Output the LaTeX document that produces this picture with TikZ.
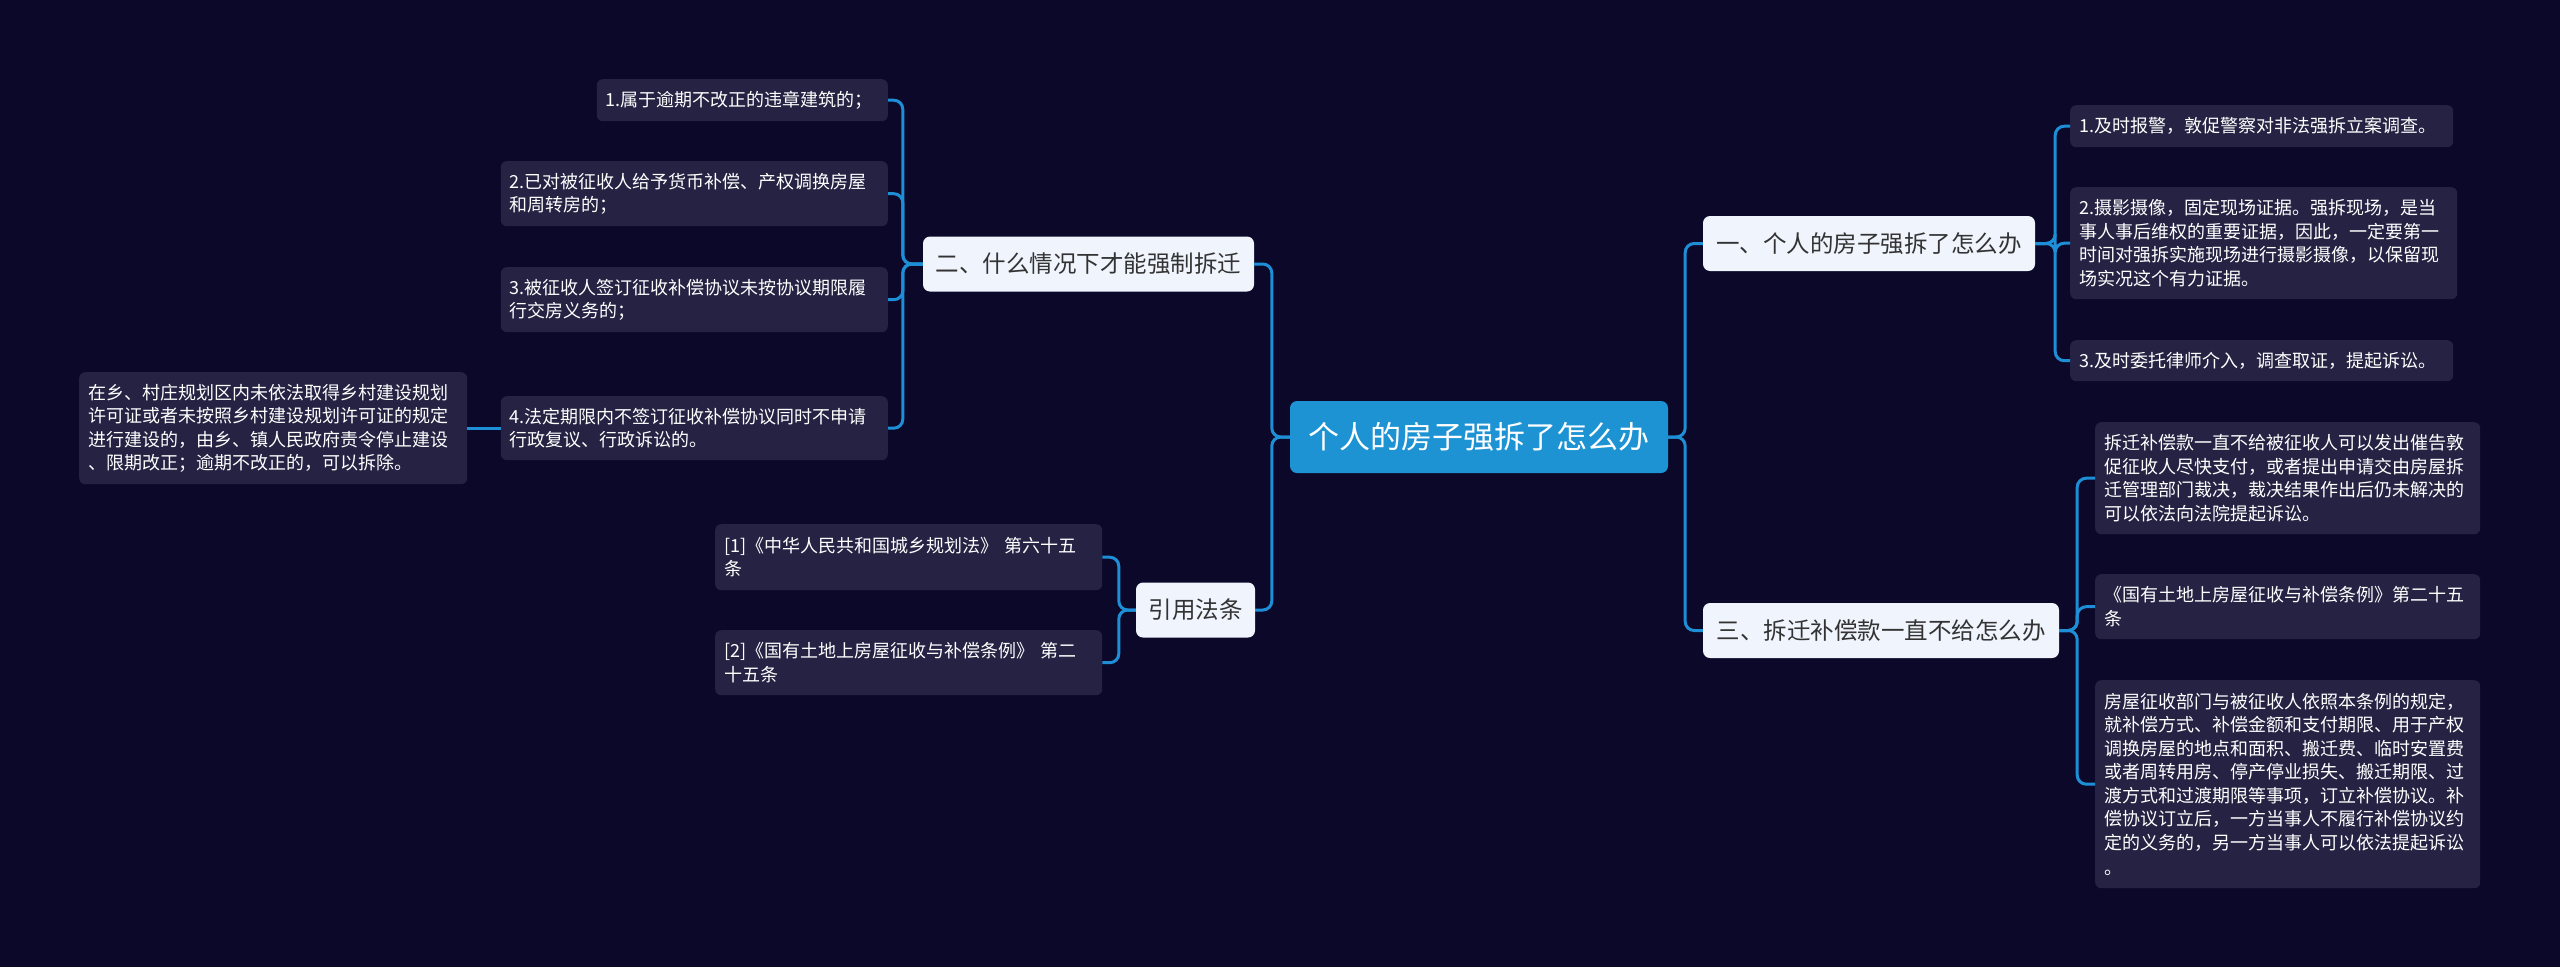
\documentclass[tikz,border=0pt]{standalone}
\usepackage{fontspec}
\newfontfamily\cjk{Noto Sans CJK SC}
\definecolor{bgnavy}{HTML}{0B0829}
\definecolor{leaffill}{HTML}{262243}
\definecolor{branchfill}{HTML}{EFF4FD}
\definecolor{rootfill}{HTML}{1D93D4}
\definecolor{linkblue}{HTML}{1E8FD6}
\begin{document}
\begin{tikzpicture}[x=1pt,y=-1pt,
    leaf/.style={rectangle,rounded corners=6pt,fill=leaffill,text=white,
        anchor=north west,inner xsep=9pt,inner ysep=0pt,align=left,
        font=\cjk\fontsize{18}{23.5}\selectfont},
    branch/.style={rectangle,rounded corners=7pt,fill=branchfill,text=black!80,
        inner sep=0pt,minimum height=55pt,font=\cjk\fontsize{23.5}{28}\selectfont},
    link/.style={draw=linkblue,line width=3pt,rounded corners=9pt}]
    % background
    \fill[bgnavy] (0,0) rectangle (2560,967);
    % root
    \node[rectangle,rounded corners=7pt,fill=rootfill,text=white,inner sep=0pt,
        minimum width=378pt,minimum height=72pt,
        font=\cjk\fontsize{31}{36}\selectfont] (root) at (1479,437) {个人的房子强拆了怎么办};
    % branches
    \node[branch,minimum width=332pt] (one) at (1869,243.5) {一、个人的房子强拆了怎么办};
    \node[branch,minimum width=356pt] (three) at (1881,630.5) {三、拆迁补偿款一直不给怎么办};
    \node[branch,minimum width=331pt] (two) at (1088.5,264) {二、什么情况下才能强制拆迁};
    \node[branch,minimum width=119pt] (cite) at (1195.5,610) {引用法条};
    % leaves of one
    \node[leaf,text width=365pt,minimum height=42pt] (onea) at (2070,105)
        {1.及时报警，敦促警察对非法强拆立案调查。};
    \node[leaf,text width=369pt,minimum height=112pt] (oneb) at (2070,187)
        {2.摄影摄像，固定现场证据。强拆现场，是当\\事人事后维权的重要证据，因此，一定要第一\\时间对强拆实施现场进行摄影摄像，以保留现\\场实况这个有力证据。};
    \node[leaf,text width=365pt,minimum height=41pt] (onec) at (2070,340)
        {3.及时委托律师介入，调查取证，提起诉讼。};
    % leaves of three
    \node[leaf,text width=367pt,minimum height=112pt] (threea) at (2095,422)
        {拆迁补偿款一直不给被征收人可以发出催告敦\\促征收人尽快支付，或者提出申请交由房屋拆\\迁管理部门裁决，裁决结果作出后仍未解决的\\可以依法向法院提起诉讼。};
    \node[leaf,text width=367pt,minimum height=65pt] (threeb) at (2095,574)
        {《国有土地上房屋征收与补偿条例》第二十五\\条};
    \node[leaf,text width=367pt,minimum height=208pt] (threec) at (2095,680)
        {房屋征收部门与被征收人依照本条例的规定，\\就补偿方式、补偿金额和支付期限、用于产权\\调换房屋的地点和面积、搬迁费、临时安置费\\或者周转用房、停产停业损失、搬迁期限、过\\渡方式和过渡期限等事项，订立补偿协议。补\\偿协议订立后，一方当事人不履行补偿协议约\\定的义务的，另一方当事人可以依法提起诉讼\\[2pt]。};
    % leaves of two
    \node[leaf,anchor=north east,text width=273pt,minimum height=42pt] (twoa) at (888,79)
        {1.属于逾期不改正的违章建筑的；};
    \node[leaf,anchor=north east,text width=369pt,minimum height=65pt] (twob) at (888,161)
        {2.已对被征收人给予货币补偿、产权调换房屋\\和周转房的；};
    \node[leaf,anchor=north east,text width=369pt,minimum height=65pt] (twoc) at (888,267)
        {3.被征收人签订征收补偿协议未按协议期限履\\行交房义务的；};
    \node[leaf,anchor=north east,text width=369pt,minimum height=64pt] (twod) at (888,396)
        {4.法定期限内不签订征收补偿协议同时不申请\\行政复议、行政诉讼的。};
    \node[leaf,text width=370pt,minimum height=112pt] (twoe) at (79,372)
        {在乡、村庄规划区内未依法取得乡村建设规划\\许可证或者未按照乡村建设规划许可证的规定\\进行建设的，由乡、镇人民政府责令停止建设\\、限期改正；逾期不改正的，可以拆除。};
    % leaves of cite
    \node[leaf,text width=369pt,minimum height=66pt] (citea) at (715,524)
        {[1]《中华人民共和国城乡规划法》~第六十五\\条};
    \node[leaf,text width=369pt,minimum height=65pt] (citeb) at (715,630)
        {[2]《国有土地上房屋征收与补偿条例》~第二\\十五条};
    % links
    \foreach \kid in {one,three}
        \draw[link] (root.east) -- ++(17,0) |- (\kid.west);
    \foreach \kid in {two,cite}
        \draw[link] (root.west) -- ++(-18,0) |- (\kid.east);
    \foreach \kid in {onea,oneb,onec}
        \draw[link] (one.east) -- ++(20,0) |- (\kid.west);
    \foreach \kid in {threea,threeb,threec}
        \draw[link] (three.east) -- ++(18,0) |- (\kid.west);
    \foreach \kid in {twoa,twob,twoc,twod}
        \draw[link] (two.west) -- ++(-20,0) |- (\kid.east);
    \foreach \kid in {citea,citeb}
        \draw[link] (cite.west) -- ++(-17,0) |- (\kid.east);
    \draw[link] (twod.west) -- (twoe.east);
\end{tikzpicture}
\end{document}
